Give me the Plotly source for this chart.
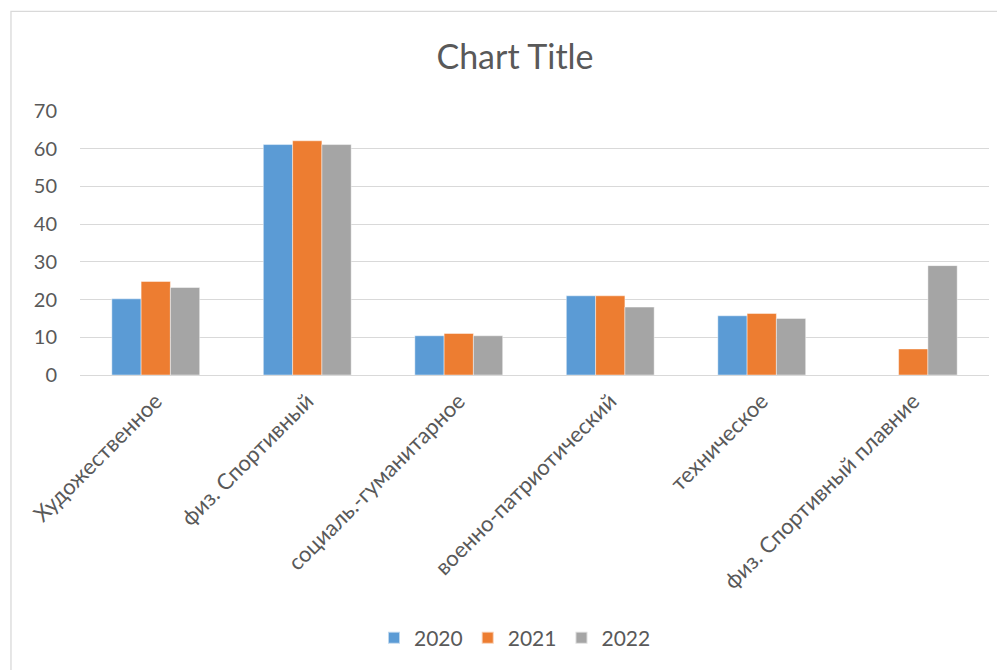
import plotly.graph_objects as go

categories = ["Художественное", "физ. Спортивный", "социаль.-гуманитарное",
              "военно-патриотический", "техническое", "физ. Спортивный плавние"]
v2020 = [20.2, 61.1, 10.4, 21.0, 15.7, 0]
v2021 = [24.8, 62.1, 11.0, 21.0, 16.3, 6.9]
v2022 = [23.2, 61.1, 10.4, 18.0, 15.0, 29.0]
series_names = ["2020", "2021", "2022"]
colors = ["#5B9BD5", "#ED7D31", "#A5A5A5"]

W, H = 997, 662
OFF = 8  # page body margin
FONT = "Lato"
TXT = "#595959"

L, T = 80 - OFF, 110.7 - OFF
R = W - (988.7 - OFF)
B = H - (374.7 - OFF)

fig = go.Figure()
for name, vals, col in zip(series_names, [v2020, v2021, v2022], colors):
    fig.add_trace(go.Bar(name=name, x=categories, y=vals, marker_color=col,
                         marker_line=dict(color="rgba(255,255,255,0.6)", width=0.75)))

fig.update_layout(
    width=W, height=H,
    paper_bgcolor="white", plot_bgcolor="white",
    margin=dict(l=L, r=R, t=T, b=B, autoexpand=False),
    barmode="group", bargap=0.42, bargroupgap=0,
    font=dict(family=FONT, color=TXT, size=20),
    title=dict(text="Chart Title", x=(515 - OFF) / W, xanchor="center", xref="container",
               y=1 - (57 - OFF) / H, yref="container", yanchor="middle",
               font=dict(family=FONT, size=34, color=TXT)),
    legend=dict(orientation="h", x=(515 - OFF) / W, xanchor="center", xref="container",
                y=1 - (638 - OFF) / H, yref="container", yanchor="middle",
                font=dict(size=21, color=TXT), traceorder="normal",
                itemwidth=30, itemsizing="constant"),
    showlegend=True,
)
fig.update_yaxes(range=[0, 70], dtick=10, showgrid=True, gridcolor="#D9D9D9",
                 gridwidth=1.3, zeroline=True, zerolinecolor="#D9D9D9",
                 zerolinewidth=1.3, showline=False, ticks="", ticklabelstandoff=22,
                 tickfont=dict(size=20, color=TXT))
fig.update_xaxes(tickangle=-45, showgrid=False, showline=False, ticks="",
                 ticklabelstandoff=8, tickfont=dict(size=22, color=TXT))

pw, ph = W - L - R, H - T - B
fig.add_shape(type="rect", xref="paper", yref="paper",
              x0=(11 - OFF - L) / pw, x1=(W + 20 - L) / pw,
              y0=-2, y1=1 + (T - (11 - OFF)) / ph,
              line=dict(color="#D9D9D9", width=1.3), fillcolor="rgba(0,0,0,0)",
              layer="below")

fig.write_html("out.html")
